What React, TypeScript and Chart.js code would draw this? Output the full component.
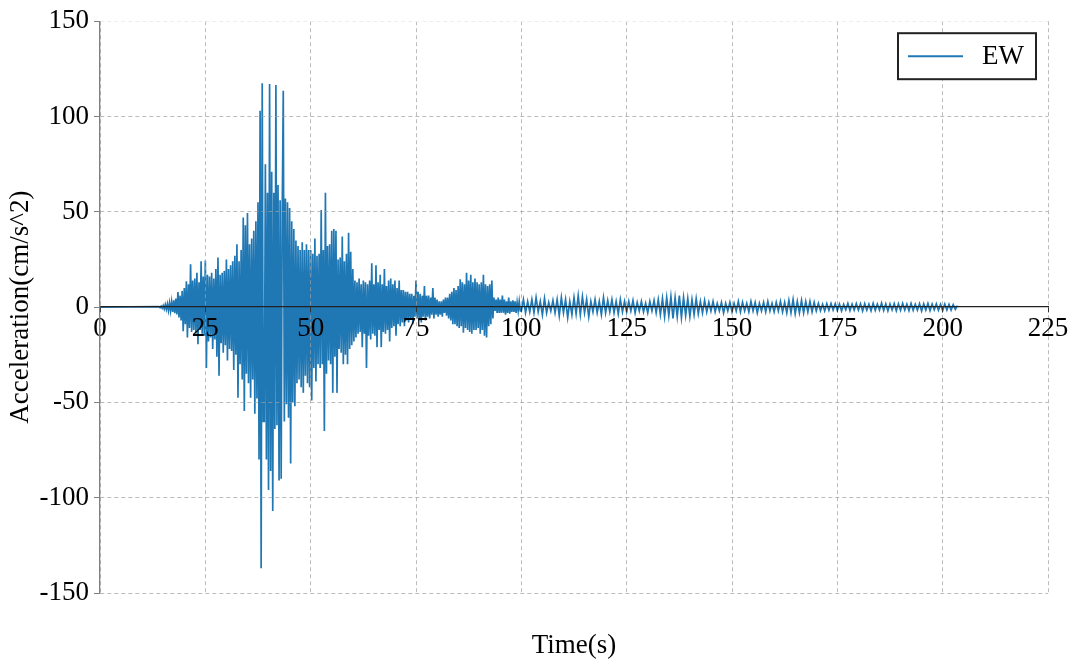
import React, { useEffect, useRef } from "react";
import { Chart, registerables } from "chart.js";

Chart.register(...registerables);

const seriesLabel = "EW";
const quietStart = 0;

// strong-motion part: every 0.25 s from 14 s (one second per group of four)
const strongStart = 14;
const strongDt = 0.25;
const strongAccel = [
  0.2, -0.3, 0.5, -0.6, 0.8, -1.0, 1.3, -1.2,
  1.6, -1.8, 2.2, -2.0, 2.8, -2.5, 3.5, -3.2,
  4.5, -3.8, 7.9, -5.5, 6.0, -7.0, 8.5, -12.6,
  10, -9, 13.6, -16, 12, -11, 22.5, -13,
  14, -12, 15, -14, 18, -19.5, 13, -12,
  24, -14, 16, -15, 24.5, -32, 17, -18,
  16, -16, 18, -22, 15, -17, 20, -26,
  26, -36, 17, -19, 18, -24, 19, -20,
  25, -28, 20, -22, 22, -23, 24, -33,
  27, -25, 33, -47.5, 24, -30, 30, -38,
  47, -54.5, 43, -35, 49.4, -40, 33, -47.5,
  36, -38, 40, -56, 45, -48, 55, -80,
  103, -137, 117.4, -60, -60, 75, -80, 60,
  -96, 117, -86, 71, -107, 60, -64, 116.5,
  -62, 64, -91, 56, -90, 50, 113.5, -60,
  57, -51, 55, -58, 52, -82, 45, -50,
  41, -52, 35, -40, 32, -38, 30, -42,
  34, -45, 30, -36, 33, -40, 30, -42,
  30, -49, 28, -32, 36, -39, 27, -30,
  28, -32, 51, -30, 30, -65, 60, -35,
  32, -28, 33, -30, 40, -45, 41, -26,
  40, -45, 25, -22, 26, -24, 37, -30,
  24, -25, 28, -30, 39, -22, 29, -20,
  20, -18, 14, -16, 13, -14, 15, -13,
  12, -21, 14, -14, 13, -32, 12, -15,
  14, -17, 23, -14, 12, -15, 22, -21,
  13, -12, 17, -21, 12, -13, 20, -14,
  11, -12, 14, -18, 15, -11, 12, -10,
  14, -15, 10, -9, 14, -10, 9, -8,
  9, -10, 8, -7, 8, -8, 7, -6,
  7, -9, 6, -5, 14, -6, 8, -7,
  7, -8, 6, -5, 11, -7, 6, -5,
  6, -6, 5, -4, 10, -6, 5, -4,
  4, -5, 3, -4, 3, -5, 4, -3,
  5, -4.5, 5, -6, 7, -7, 8, -9,
  10, -9, 9, -10, 11, -11, 14.6, -10,
  13, -13.4, 12, -11, 18, -12, 14, -13,
  17, -14, 13, -12, 15, -12, 13, -11,
  12, -14, 13, -12, 17, -15, 12, -16,
  11, -10, 12, -9, 14, -6, 5, -2,
  4, -3, 5, -3, 4, -3, 6, -3,
  4, -4, 3, -3, 5, -3.5, 3, -2.5,
  3.5, -2.5, 3, -3, 2.5, -2, 3, -2,
];

// coda: every 0.5 s from 100 s to the end of the record
const codaStart = 100;
const codaDt = 0.5;
const codaAccel = [
  -2, 4, -3, 3, -2.5, 4, -3, 5,
  -2.5, 3, -4, 4.5, -3, 2.5, -2, 3.5, -3, 4,
  -4.5, 5, -3, 4, -5.5, 3, -4, 5, -3.5, 6,
  -4, 5.5, -3, 4, -5, 3, -2.5, 4, -3, 3,
  -4, 5, -3, 3.5, -2.5, 4, -3, 3, -3.5, 4,
  -2.5, 3, -2.5, 3, -2, 3.5, -3, 2.5, -2, 3,
  -2.5, 2, -3, 3, -2, 3.5, -3, 4, -4, 4.5,
  -5, 5, -4.5, 5.5, -6, 5, -5, 6, -5.5, 5,
  -4.5, 4.5, -5, 4, -4, 4.5, -3.5, 3, -3, 3.5,
  -2.5, 2.5, -2, 3, -2.5, 2, -2, 2.5, -3, 2,
  -2, 2.5, -2.5, 2, -2, 3, -2.5, 2.5, -2, 2,
  -2.5, 3, -2, 2.5, -3, 2, -2, 2.5, -2.5, 3,
  -2, 2, -2.5, 2.5, -2, 3, -2.5, 2.5, -3, 3.5,
  -3, 4, -3.5, 3, -3, 3.5, -3, 3, -2.5, 3,
  -2.5, 2.5, -2, 2, -1.8, 1.5, -2, 1.8, -1.6, 1.9,
  -1.5, 1.8, -1.7, 1.6, -2, 1.5, -1.4, 2, -1.8, 1.6,
  -1.6, 1.9, -1.5, 1.7, -2, 1.8, -1.6, 1.5, -1.9, 2,
  -1.7, 1.6, -1.5, 2.1, -1.8, 1.7, -2, 1.6, -1.5, 1.8,
  -1.9, 1.7, -1.6, 2, -1.5, 1.6, -1.8, 1.9, -1.7, 1.5,
  -1.6, 1.8, -2, 1.7, -1.5, 1.9, -1.8, 1.6, -1.4, 1.7,
  -1.6, 1.5, -1.8, 1.6, -1.5, 1.4, -1.6, 1.3, -1.2, 0.8,
];

const xTicks = [0, 25, 50, 75, 100, 125, 150, 175, 200, 225];
const yTicks = [-150, -100, -50, 0, 50, 100, 150];
const xTitle = "Time(s)";
const yTitle = "Acceleration(cm/s^2)";

const serif = "'Liberation Serif', 'Times New Roman', serif";
const fontSize = 27;
const lineColor = "#1f77b4";
const gridColor = "rgba(160,160,160,0.7)";

// x title sits at the bottom, the x axis itself sits on y = 0
const bottomTitle = {
  id: "bottomTitle",
  afterDraw(chart: any) {
    const { ctx, chartArea } = chart;
    ctx.save();
    ctx.font = `${fontSize}px ${serif}`;
    ctx.fillStyle = "#000";
    ctx.textAlign = "center";
    ctx.textBaseline = "middle";
    ctx.fillText(xTitle, (chartArea.left + chartArea.right) / 2, chart.height - 26);
    ctx.restore();
  },
};

// boxed legend in the top-right corner of the plot
const boxLegend = {
  id: "boxLegend",
  afterDraw(chart: any) {
    const { ctx, chartArea } = chart;
    const ds = chart.data.datasets[0];
    const w = 138;
    const h = 46;
    const x = chartArea.right - 12 - w;
    const y = chartArea.top + 12;
    ctx.save();
    ctx.fillStyle = "#fff";
    ctx.fillRect(x, y, w, h);
    ctx.strokeStyle = "#222";
    ctx.lineWidth = 2;
    ctx.strokeRect(x, y, w, h);
    ctx.strokeStyle = ds.borderColor;
    ctx.lineWidth = 2;
    ctx.beginPath();
    ctx.moveTo(x + 10, y + h / 2);
    ctx.lineTo(x + 65, y + h / 2);
    ctx.stroke();
    ctx.font = `${fontSize}px ${serif}`;
    ctx.fillStyle = "#000";
    ctx.textBaseline = "middle";
    ctx.fillText(ds.label, x + 84, y + h / 2 + 1);
    ctx.restore();
  },
};

const AccelChart: React.FC = () => {
  const chartRef = useRef<HTMLCanvasElement | null>(null);

  useEffect(() => {
    document.body.style.margin = "0";
    let chartInstance: Chart | null = null;
    if (chartRef.current) {
      const points = [
        { x: quietStart, y: 0 },
        ...strongAccel.map((a, i) => ({ x: strongStart + i * strongDt, y: a })),
        ...codaAccel.map((a, i) => ({ x: codaStart + i * codaDt, y: a })),
      ];
      chartInstance = new Chart(chartRef.current, {
        type: "line",
        data: {
          datasets: [
            {
              label: seriesLabel,
              data: points,
              borderColor: lineColor,
              borderWidth: 1.7,
              pointRadius: 0,
              tension: 0,
              fill: false,
            },
          ],
        },
        options: {
          animation: false,
          responsive: false,
          devicePixelRatio: 1,
          layout: { padding: { top: 20, right: 32, bottom: 79, left: 0 } },
          plugins: { legend: { display: false }, tooltip: { enabled: false } },
          scales: {
            x: {
              type: "linear",
              min: 0,
              max: 225,
              position: { y: 0 } as any,
              afterBuildTicks: (s: any) => {
                s.ticks = xTicks.map((v) => ({ value: v }));
              },
              ticks: {
                font: { family: serif, size: fontSize },
                color: "#000",
                padding: 1,
                maxRotation: 0,
                autoSkip: false,
                z: 2,
              },
              grid: {
                color: gridColor,
                lineWidth: 1,
                tickLength: 5,
                tickColor: "#333",
                z: 1,
              },
              border: { color: "#222", width: 1.3, dash: [4, 3], z: 2 },
            },
            y: {
              min: -150,
              max: 150,
              afterBuildTicks: (s: any) => {
                s.ticks = yTicks.map((v) => ({ value: v }));
              },
              afterFit: (s: any) => {
                s.width = 100;
              },
              ticks: {
                font: { family: serif, size: fontSize },
                color: "#000",
                padding: 5,
              },
              grid: {
                color: (c: any) =>
                  c.tick && c.tick.value === 150
                    ? "#eeeeee"
                    : c.tick && c.tick.value === 0
                    ? "rgba(0,0,0,0)"
                    : gridColor,
                lineWidth: 1,
                tickLength: 6,
                tickColor: "#808080",
                z: 1,
              },
              border: { color: "#808080", width: 1.3, dash: [4, 3], z: 2 },
              title: {
                display: true,
                text: yTitle,
                font: { family: serif, size: fontSize },
                color: "#000",
                padding: { top: 5, bottom: 0 },
              },
            },
          },
        },
        plugins: [bottomTitle, boxLegend],
      });
    }
    return () => {
      if (chartInstance) {
        chartInstance.destroy();
      }
    };
  }, []);

  return <canvas ref={chartRef} width={1080} height={672} />;
};

export default function App() {
  return <AccelChart />;
}
